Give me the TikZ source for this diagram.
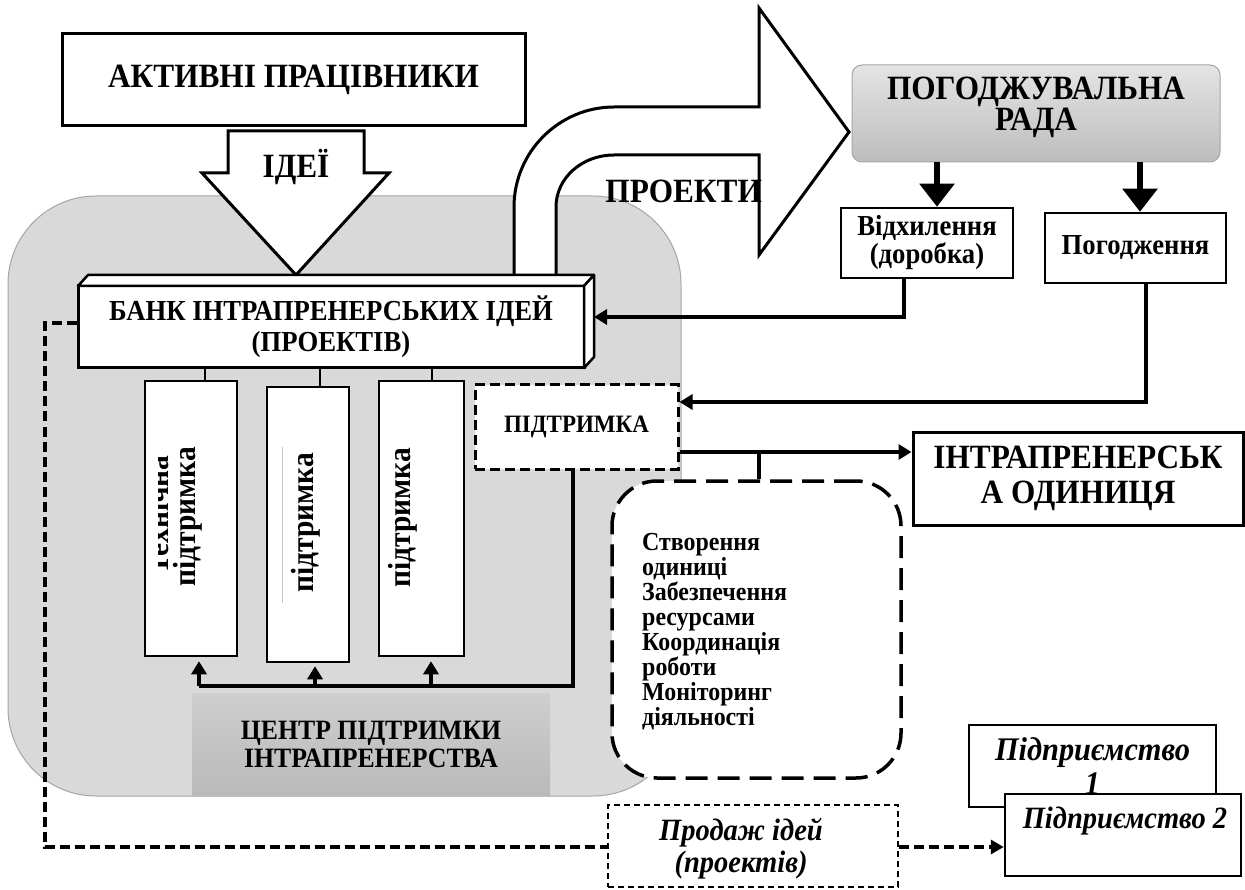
\documentclass[tikz,border=0pt]{standalone}
\usepackage{fontspec}
\setmainfont{Liberation Serif}[FakeStretch=0.92]
\usetikzlibrary{arrows.meta}
\definecolor{bggray}{HTML}{D9D9D9}
\definecolor{bgedge}{HTML}{A6A6A6}
\definecolor{radatop}{HTML}{E4E4E4}
\definecolor{radabot}{HTML}{BDBDBD}
\definecolor{ctop}{HTML}{CFCFCF}
\definecolor{cbot}{HTML}{B9B9B9}
\newcommand\fBig{\fontsize{34}{29}\selectfont\bfseries}
\newcommand\fRada{\fontsize{34}{28}\selectfont\bfseries}
\newcommand\fBank{\fontsize{29}{31}\selectfont\bfseries}
\newcommand\fSup{\fontsize{25}{28}\selectfont\bfseries}
\newcommand\fSm{\fontsize{29}{28}\selectfont\bfseries}
\newcommand\fV{\fontsize{32}{32}\selectfont\bfseries}
\newcommand\fM{\fontsize{26}{25}\selectfont\bfseries}
\newcommand\fC{\fontsize{28}{28}\selectfont\bfseries}
\newcommand\fIt{\fontsize{31}{32}\selectfont\bfseries\itshape}
\newcommand\fItB{\fontsize{33}{34}\selectfont\bfseries\itshape}
\newcommand\fU{\fontsize{34}{35}\selectfont\bfseries}
\begin{document}
\begin{tikzpicture}[x=1pt,y=-1pt,
  box/.style={draw, line width=3pt, fill=white, inner sep=0pt},
  vbox/.style={draw, line width=2.5pt, fill=white, inner sep=0pt},
  vtext/.style={rotate=90, anchor=base, font=\fV, inner sep=0pt},
  conn/.style={line width=3.5pt},
  thinline/.style={line width=1.5pt},
  tipa/.style={-{Triangle[length=13pt,width=15pt]}},
  bigtip/.style={-{Triangle[length=23pt,width=34pt]}},
  dline/.style={line width=4pt, dash pattern=on 10pt off 5pt},
  blockarrow/.style={line width=3pt, line join=miter}]
\useasboundingbox (0,0) rectangle (1245,890);
\fill[white] (0,0) rectangle (1245,890);

% grey background
\path[draw=bgedge, fill=bggray, line width=1pt, rounded corners=88pt] (8,196) rectangle (681,796);

% workers
\node[box, minimum width=463pt, minimum height=92pt, font=\fBig] (workers) at (293.5,80) {АКТИВНІ ПРАЦІВНИКИ};

% ideas arrow
\draw[blockarrow, fill=white] (228,131) -- (364,131) -- (364,173) -- (389,173) -- (296,275) -- (202,173) -- (228,173) -- cycle;
\node[font=\fBig, inner sep=0pt] (ideas) at (296,167) {ІДЕЇ};

% projects curved arrow
\fill[white] (514,280) -- (514,207) .. controls (514,152) and (559,107) .. (614,107) -- (759,107) -- (759,8) -- (849,132) -- (759,255) -- (759,155) -- (614,155) .. controls (582,155) and (556,178) .. (556,207) -- (556,280) -- cycle;
\draw[blockarrow] (514,280) -- (514,207) .. controls (514,152) and (559,107) .. (614,107) -- (759,107) -- (759,8) -- (849,132) -- (759,255) -- (759,155) -- (614,155) .. controls (582,155) and (556,178) .. (556,207) -- (556,280);
\node[font=\fBig, anchor=east, inner sep=0pt] (projects) at (762,191) {ПРОЕКТИ};

% bank (3D box)
\node[box, minimum width=506pt, minimum height=82pt, align=center, font=\fBank] (bank) at (331,327) {БАНК ІНТРАПРЕНЕРСЬКИХ ІДЕЙ\\(ПРОЕКТІВ)};
\draw[line width=2.5pt, fill=white, line join=round] (bank.north west) ++(1.5,1.5) -- ++(10,-11) -- (594,275) -- ++(-10,11) -- cycle;
\draw[line width=2.5pt, fill=white, line join=round] (584,286) -- (594,275) -- (594,357) -- (584,368) -- cycle;
\coordinate (bankside) at (594,327);

% vertical boxes
\node[vbox, minimum width=92pt, minimum height=275pt] (boxA) at (191,518.5) {};
\node[vbox, minimum width=82pt, minimum height=275pt] (boxB) at (308,524.5) {};
\node[vbox, minimum width=85pt, minimum height=275pt] (boxC) at (421.5,518.5) {};
\begin{scope}
\clip (158,385) rectangle (235,650);
\node[vtext] (tA0) at (168,515) {Технічна};
\end{scope}
\node[vtext] (tA) at (195,517) {підтримка};
\draw[gray!45, line width=0.6pt] (282,447) -- (282,603);
\node[vtext] (tB) at (313,523) {підтримка};
\node[vtext] (tC) at (410,518) {підтримка};

\draw[thinline] ([xshift=14pt]boxA.north) -- ([xshift=14pt]boxA.north |- bank.south);
\draw[thinline] ([xshift=12pt]boxB.north) -- ([xshift=12pt]boxB.north |- bank.south);
\draw[thinline] ([xshift=10.5pt]boxC.north) -- ([xshift=10.5pt]boxC.north |- bank.south);

% support box
\node[draw, line width=3pt, dash pattern=on 10pt off 5pt, fill=white, minimum width=203pt, minimum height=84pt, inner sep=0pt, font=\fSup] (sup) at (576.5,427) {ПІДТРИМКА};

% bus to vertical boxes
\coordinate (busR) at (573,686);
\coordinate (busL) at (199,686);
\coordinate (busB) at (315,686);
\coordinate (busC) at (431,686);
\draw[conn, line join=miter] (sup.south -| busR) -- (busR) -- (busL);
\draw[conn, tipa, shorten >=4pt] (busL) -- (busL |- boxA.south);
\draw[conn, tipa, shorten >=3pt] (busB) -- (busB |- boxB.south);
\draw[conn, tipa, shorten >=4pt] (busC) -- (busC |- boxC.south);

% centre
\node[top color=ctop, bottom color=cbot, minimum width=358pt, minimum height=102pt, inner sep=0pt, align=center, font=\fC] (centre) at (371,744) {ЦЕНТР ПІДТРИМКИ\\ІНТРАПРЕНЕРСТВА};

% management rounded box
\node[draw, line width=3.5pt, dash pattern=on 22pt off 10pt, fill=white, rounded corners=45pt, minimum width=289pt, minimum height=297pt] (mgmt) at (756.5,629.5) {};
\node[anchor=north west, align=left, font=\fM, inner sep=0pt] (mgmttext) at (642,533) {Створення\\одиниці\\Забезпечення\\ресурсами\\Координація\\роботи\\Моніторинг\\діяльності};

% unit
\node[box, minimum width=330pt, minimum height=93pt, align=center, font=\fU] (unit) at (1078,478.5) {ІНТРАПРЕНЕРСЬК\\А ОДИНИЦЯ};
\coordinate (jn) at (759,452);
\draw[conn, tipa] (sup.east |- jn) -- (unit.west |- jn);
\draw[conn] (jn) -- (jn |- mgmt.north);

% council
\node[draw=gray!70, line width=1pt, rounded corners=10pt, top color=radatop, bottom color=radabot, minimum width=368pt, minimum height=97pt] (council) at (1036,113.5) {};
\node[font=\fRada, align=center, inner sep=0pt] (counciltext) at ([yshift=6pt]council.center) {ПОГОДЖУВАЛЬНА\\РАДА};

% decisions
\node[box, line width=2.5pt, minimum width=172pt, minimum height=70pt, align=center, font=\fSm] (rej) at (927,243) {Відхилення\\(доробка)};
\node[box, line width=2.5pt, minimum width=181pt, minimum height=70pt, font=\fSm] (appr) at (1135.5,248) {Погодження};
\draw[line width=5.5pt, bigtip] ([xshift=10pt]rej.north |- council.south) -- ([xshift=10pt]rej.north);
\draw[line width=5.5pt, bigtip] ([xshift=4.5pt]appr.north |- council.south) -- ([xshift=4.5pt]appr.north);

\coordinate (rejturn) at (904,317);
\draw[conn, tipa, line join=miter] (rej.south -| rejturn) -- (rejturn) -- (bankside |- rejturn);
\coordinate (apprturn) at (1146,402);
\draw[conn, tipa, line join=miter] (appr.south -| apprturn) -- (apprturn) -- (sup.east |- apprturn);

% enterprises
\node[box, line width=2.5pt, minimum width=247pt, minimum height=82pt, align=center, font=\fItB] (ent1) at (1092.5,766) {Підприємство\\1};
\node[box, line width=2.5pt, minimum width=236pt, minimum height=82pt] (ent2) at (1123,835) {};
\node[font=\fIt, inner sep=0pt] (ent2text) at (1125,821) {Підприємство 2};

% sale
\node[draw, line width=2pt, dash pattern=on 6pt off 4pt, fill=white, minimum width=290pt, minimum height=82pt, inner sep=0pt] (sale) at (753,846) {};
\node[align=center, font=\fIt, inner sep=0pt] (saletext) at (741,849) {Продаж ідей\\(проектів)};

\coordinate (dl) at (45,323);
\coordinate (dlb) at (45,847);
\draw[dline] (bank.west |- dl) -- (dl) -- (dlb) -- (sale.west |- dlb);
\draw[dline, -{Triangle[length=13pt,width=14pt]}] (sale.east |- dlb) -- (ent2.west |- dlb);
\end{tikzpicture}
\end{document}
